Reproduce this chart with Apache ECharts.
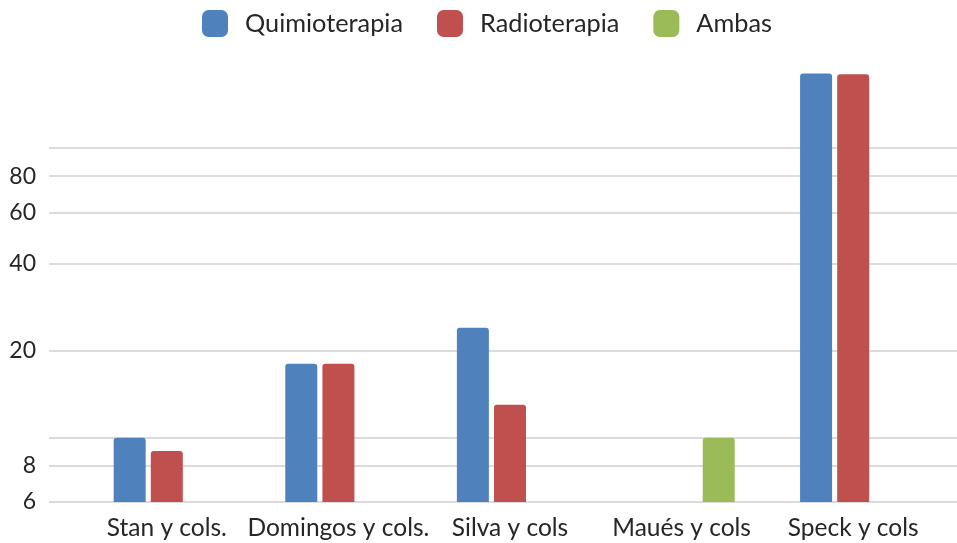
<!DOCTYPE html>
<html><head><meta charset="utf-8">
<script src="https://cdn.jsdelivr.net/npm/echarts@6/dist/echarts.min.js"></script>
<style>html,body{margin:0;padding:0;background:#fff}#c{width:957px;height:543px}</style>
</head><body><div id="c"></div>
<script>
const categories = ['Stan y cols.', 'Domingos y cols.', 'Silva y cols', 'Maués y cols', 'Speck y cols'];
const seriesNames = ['Quimioterapia', 'Radioterapia', 'Ambas'];
const quimio = [10, 18, 24, null, 181];
const radio = [9, 18, 13, null, 180];
const ambas = [null, null, null, 10, null];
const gridValues = [6, 8, 10, 20, 40, 60, 80, 100];
const tickLabels = [6, 8, 20, 40, 60, 80];
const yMin = 6, yMax = 200;

const colors = ['#4F81BD', '#C0504D', '#9BBB59'];
const FONT = 'Lato';
const TXT = '#262626';

const chart = echarts.init(document.getElementById('c'), null, {renderer: 'canvas'});
function bar(name, data, i) {
  return {
    name, type: 'bar', data, xAxisIndex: 1, yAxisIndex: 1,
    barWidth: 32, barGap: '16%',
    itemStyle: {color: colors[i], borderRadius: [3, 3, 0, 0]},
    clip: true
  };
}
chart.setOption({
  animation: false,
  color: colors,
  legend: {
    top: 5, left: 197,
    itemWidth: 26, itemHeight: 27, itemGap: 34,
    icon: 'roundRect',
    textStyle: {fontFamily: FONT, fontSize: 25.3, color: TXT, padding: [0, 0, 0, 12]},
    data: seriesNames
  },
  grid: [
    {left: 49, right: 0, top: 61, bottom: 41},
    {left: 81, right: 18, top: 61, bottom: 41}
  ],
  xAxis: [
    {type: 'category', gridIndex: 0, show: false, data: categories},
    {type: 'category', gridIndex: 1, data: categories,
     axisLine: {show: false}, axisTick: {show: false},
     axisLabel: {interval: 0, fontFamily: FONT, fontSize: 24.5, color: TXT, margin: 14}}
  ],
  yAxis: [
    {type: 'log', gridIndex: 0, min: yMin, max: yMax, logBase: 10,
     axisLine: {show: false},
     axisTick: {show: false, customValues: gridValues},
     axisLabel: {customValues: tickLabels, fontFamily: FONT, fontSize: 23, color: TXT, margin: 13},
     splitLine: {show: true, lineStyle: {color: '#cfcfcf', width: 1.5}}},
    {type: 'log', gridIndex: 1, min: yMin, max: yMax, logBase: 10, show: false,
     splitLine: {show: false}}
  ],
  series: [bar(seriesNames[0], quimio, 0), bar(seriesNames[1], radio, 1), bar(seriesNames[2], ambas, 2)]
});
</script></body></html>
